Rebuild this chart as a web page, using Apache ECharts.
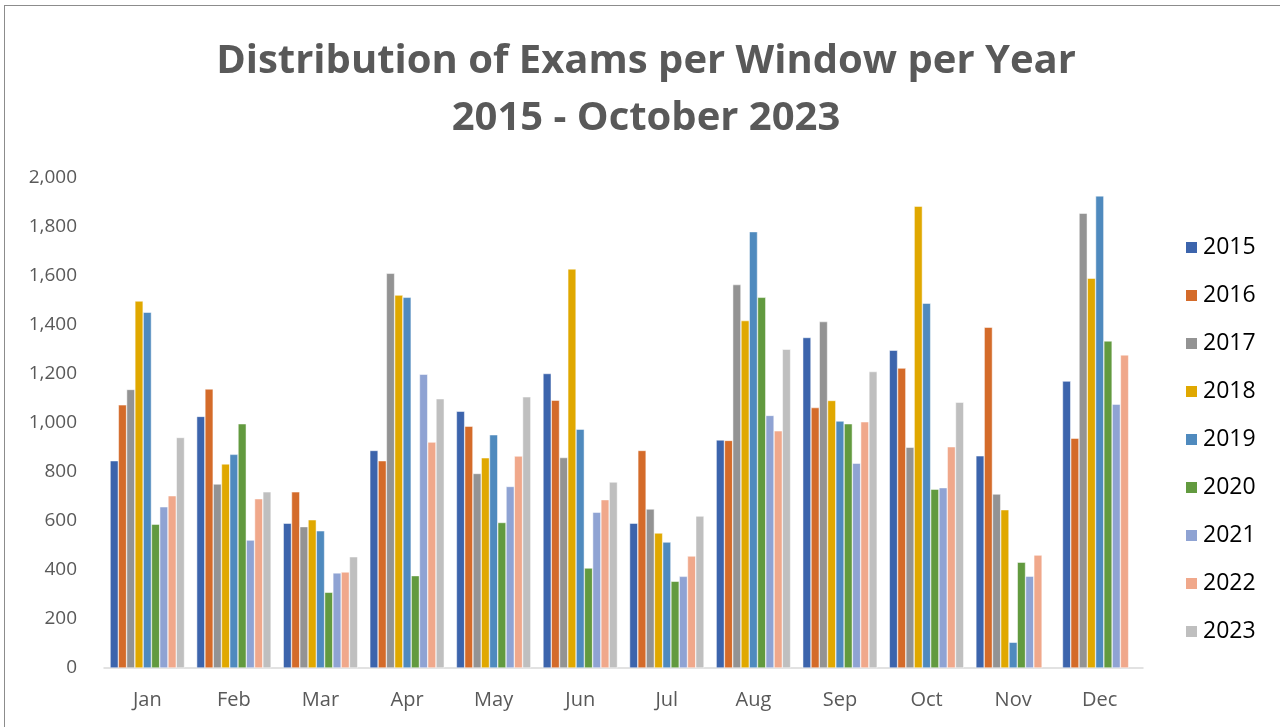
<!DOCTYPE html>
<html>
<head>
    <meta charset="UTF-8">
    <title>Distribution of Exams per Window per Year</title>
    <script src="https://cdn.jsdelivr.net/npm/echarts@6.0.0/dist/echarts.min.js"></script>
    <style>
        html, body {margin: 0; padding: 0; background: #fff;}
        #chart {position: absolute; left: 4px; top: 5px; width: 1280px; height: 727px; border-left: 1px solid #8c8c8c; border-top: 1px solid #8c8c8c;}
    </style>
</head>
<body>
    <div id="chart"></div>

    <script>
        // months (exam windows)
        const months = ['Jan', 'Feb', 'Mar', 'Apr', 'May', 'Jun', 'Jul', 'Aug', 'Sep', 'Oct', 'Nov', 'Dec'];
        const years = ['2015', '2016', '2017', '2018', '2019', '2020', '2021', '2022', '2023'];
        const yTicks = [0, 200, 400, 600, 800, 1000, 1200, 1400, 1600, 1800, 2000];

        // values, one array per year
        const y2015 = [846, 1027, 591, 888, 1048, 1202, 591, 931, 1349, 1297, 866, 1171];
        const y2016 = [1074, 1139, 719, 846, 987, 1093, 888, 929, 1063, 1224, 1391, 938];
        const y2017 = [1137, 751, 577, 1611, 794, 859, 649, 1565, 1414, 901, 710, 1856];
        const y2018 = [1498, 833, 605, 1522, 858, 1629, 551, 1418, 1092, 1885, 646, 1591];
        const y2019 = [1452, 872, 560, 1513, 952, 975, 514, 1781, 1008, 1489, 105, 1927];
        const y2020 = [587, 997, 309, 377, 594, 408, 354, 1513, 997, 730, 432, 1335];
        const y2021 = [658, 522, 388, 1199, 741, 636, 374, 1031, 836, 736, 375, 1077];
        const y2022 = [703, 691, 392, 922, 865, 687, 457, 968, 1005, 903, 461, 1278];
        const y2023 = [941, 719, 454, 1099, 1107, 759, 620, 1301, 1210, 1085, null, null];

        const values = [y2015, y2016, y2017, y2018, y2019, y2020, y2021, y2022, y2023];
        const colors = ['#3C64AC', '#D46B2A', '#939393', '#E0A800', '#4F8ABE', '#629A3F', '#8FA3D3', '#F0A88B', '#BFBFBF'];

        const chart = echarts.init(document.getElementById('chart'));
        chart.setOption({
            animation: false,
            title: {
                text: 'Distribution of Exams per Window per Year\n2015 - October 2023',
                left: 636, top: 22, textAlign: 'center',
                textStyle: {fontFamily: 'Open Sans', fontSize: 40, fontWeight: 'bold', color: '#595959', lineHeight: 57}
            },
            legend: {
                orient: 'vertical',
                left: 1174, top: 225,
                itemWidth: 13, itemHeight: 13, itemGap: 25,
                icon: 'rect',
                textStyle: {fontFamily: 'Open Sans', fontSize: 23, lineHeight: 23, color: '#000'},
                data: years
            },
            grid: {left: 99, right: 142, top: 172, bottom: 65},
            xAxis: {
                type: 'category',
                data: months,
                axisTick: {show: false},
                axisLine: {lineStyle: {color: '#D9D9D9', width: 1.5}},
                axisLabel: {fontFamily: 'Open Sans', fontSize: 20, color: '#595959', margin: 22}
            },
            yAxis: {
                type: 'value',
                min: yTicks[0], max: yTicks[yTicks.length - 1], interval: 200,
                splitLine: {show: false},
                axisLabel: {
                    fontFamily: 'Open Sans', fontSize: 19, color: '#595959', margin: 27,
                    formatter: v => v.toLocaleString('en-US')
                }
            },
            series: years.map((yr, i) => ({
                name: yr,
                type: 'bar',
                data: values[i],
                barGap: '0%',
                barCategoryGap: '14%',
                itemStyle: {color: colors[i], borderColor: '#fff', borderWidth: 0.5}
            }))
        });
    </script>
</body>
</html>
